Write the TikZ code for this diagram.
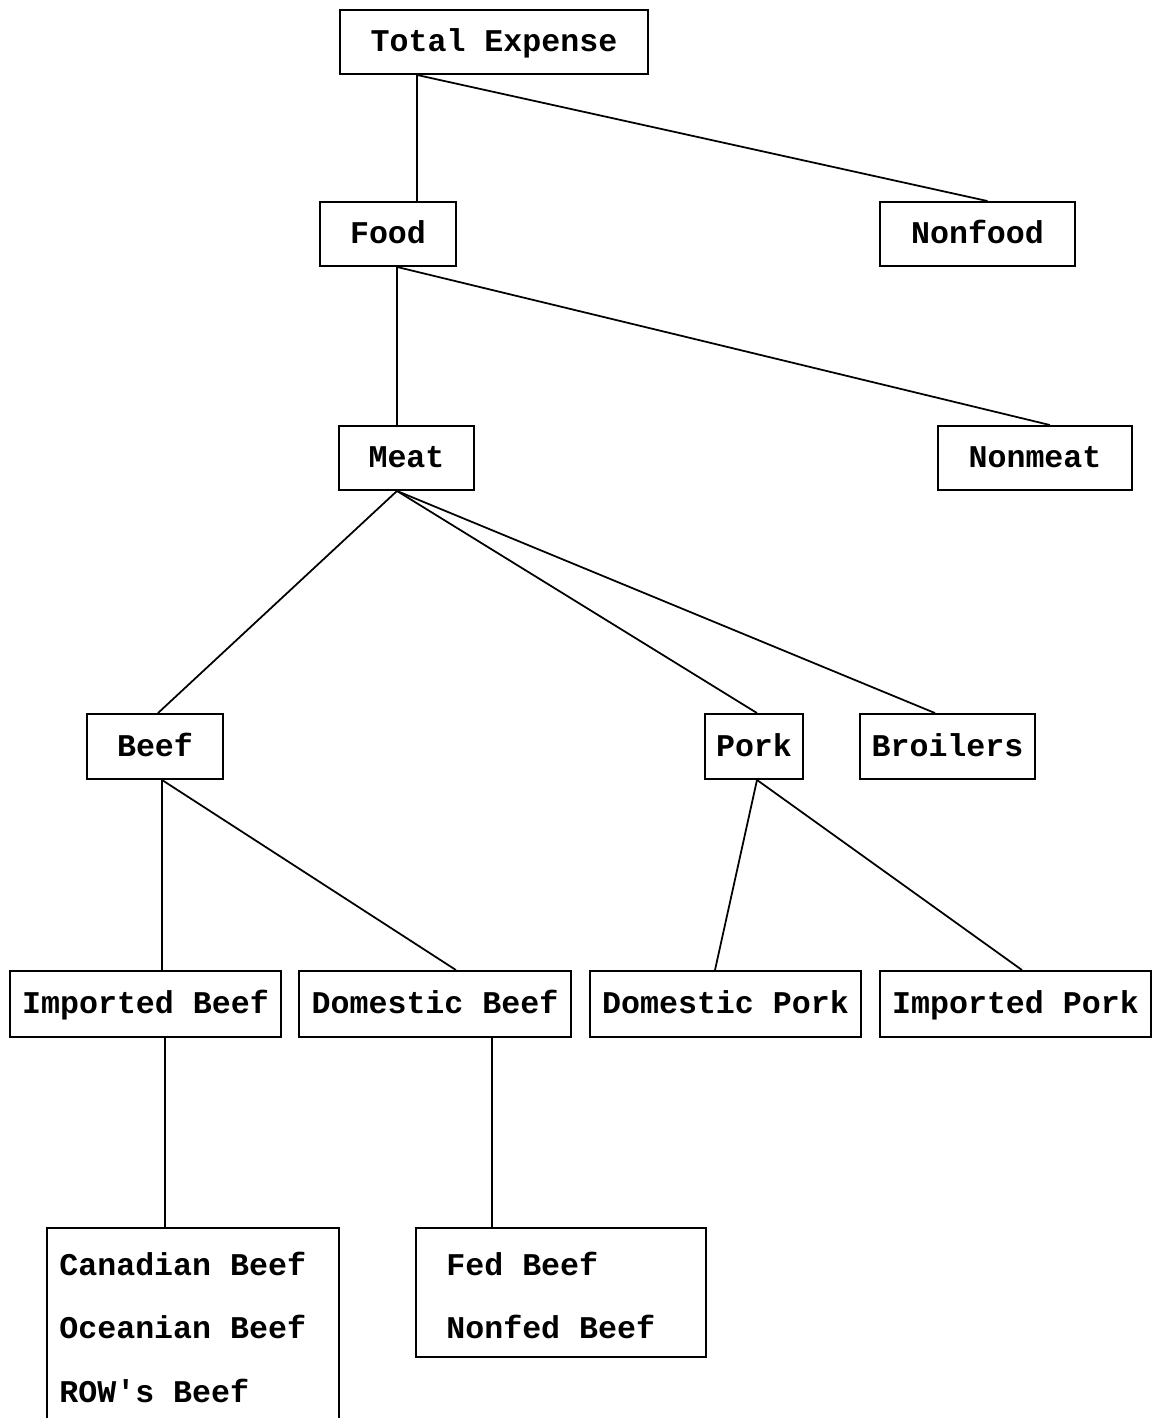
\documentclass[tikz,border=0pt]{standalone}
\usepackage{fontspec}
\newfontfamily\boxfont{Liberation Mono}[Ligatures=TeXOff]
\tikzset{
  box/.style={draw, line width=1.1pt, inner sep=0pt, minimum height=1.28cm,
    text height=11pt, text depth=0pt,
    font=\boxfont\bfseries\fontsize{18}{20}\selectfont},
  item/.style={inner sep=0pt, anchor=base west,
    font=\boxfont\bfseries\fontsize{18}{20}\selectfont},
  link/.style={line width=1pt}
}
\begin{document}
\begin{tikzpicture}[x=0.02cm, y=-0.02cm]
                  \useasboundingbox (0,0) rectangle (1157,1418);

                  % Top levels
                  \node[box, minimum width=6.16cm] (tot) at (494,42) {Total Expense};
                  \node[box, minimum width=2.72cm] (food) at (388,234) {Food};
                  \node[box, minimum width=3.9cm] (nonfood) at (977.5,234) {Nonfood};
                  \node[box, minimum width=2.7cm] (meat) at (406.5,458) {Meat};
                  \node[box, minimum width=3.88cm] (nonmeat) at (1035,458) {Nonmeat};

                  % Meats
                  \node[box, minimum width=2.72cm, minimum height=1.3cm] (beef) at (155,746.5) {Beef};
                  \node[box, minimum width=1.96cm, minimum height=1.3cm] (pork) at (754,746.5) {Pork};
                  \node[box, minimum width=3.5cm, minimum height=1.3cm] (broil) at (947.5,746.5) {Broilers};

                  % Origins
                  \node[box, minimum width=5.42cm, minimum height=1.32cm] (impb) at (145.5,1004) {Imported Beef};
                  \node[box, minimum width=5.44cm, minimum height=1.32cm] (domb) at (435,1004) {Domestic Beef};
                  \node[box, minimum width=5.42cm, minimum height=1.32cm] (domp) at (725.5,1004) {Domestic Pork};
                  \node[box, minimum width=5.42cm, minimum height=1.32cm] (impp) at (1015.5,1004) {Imported Pork};

                  % Lists
                  \node[box, minimum width=5.84cm, minimum height=4.24cm] (can) at (193,1334) {};
                  \node[box, minimum width=5.8cm, minimum height=2.58cm] (fed) at (561,1292.5) {};
                  \node[item] (canb) at (59,1275) {Canadian Beef};
                  \node[item] (oceb) at (59,1338) {Oceanian Beef};
                  \node[item] (rowb) at (59,1402) {ROW's Beef};
                  \node[item] (fedb) at (446,1275) {Fed Beef};
                  \node[item] (nfedb) at (446,1338) {Nonfed Beef};

                  % Connectors
                  \draw[link] ([xshift=-1.54cm]tot.south) -- ([xshift=0.58cm]food.north);
                  \draw[link] ([xshift=-1.54cm]tot.south) -- ([xshift=0.2cm]nonfood.north);
                  \draw[link] ([xshift=0.18cm]food.south) -- ([xshift=-0.19cm]meat.north);
                  \draw[link] ([xshift=0.18cm]food.south) -- ([xshift=0.3cm]nonmeat.north);
                  \draw[link] ([xshift=-0.19cm]meat.south) -- ([xshift=0.06cm]beef.north);
                  \draw[link] ([xshift=-0.19cm]meat.south) -- ([xshift=0.06cm]pork.north);
                  \draw[link] ([xshift=-0.19cm]meat.south) -- ([xshift=-0.25cm]broil.north);
                  \draw[link] ([xshift=0.14cm]beef.south) -- ([xshift=0.33cm]impb.north);
                  \draw[link] ([xshift=0.14cm]beef.south) -- ([xshift=0.42cm]domb.north);
                  \draw[link] ([xshift=0.06cm]pork.south) -- ([xshift=-0.21cm]domp.north);
                  \draw[link] ([xshift=0.06cm]pork.south) -- ([xshift=0.13cm]impp.north);
                  \draw[link] ([xshift=0.39cm]impb.south) -- ([xshift=-0.56cm]can.north);
                  \draw[link] ([xshift=1.14cm]domb.south) -- ([xshift=-1.38cm]fed.north);

              \end{tikzpicture}
\end{document}
